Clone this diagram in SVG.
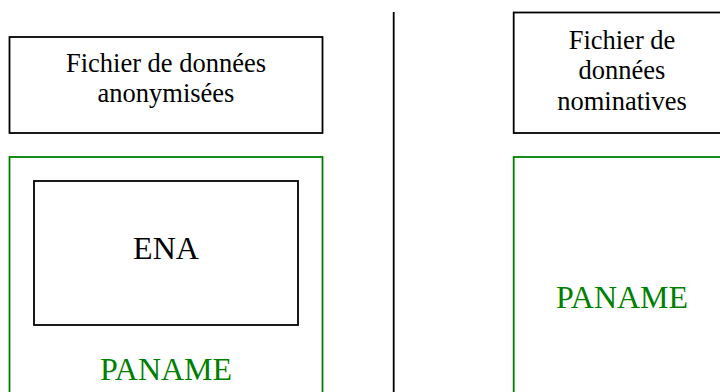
<svg xmlns="http://www.w3.org/2000/svg" width="720" height="392" viewBox="0 0 720 392">
<style>
.box{fill:#fff;stroke:#000;stroke-width:1.8}
.gbox{fill:#fff;stroke:#008000;stroke-width:1.8}
.t{font-family:"Liberation Serif","Times New Roman",serif;font-size:26.5px;fill:#000;text-anchor:middle}
.big{font-family:"Liberation Serif","Times New Roman",serif;font-size:32px;text-anchor:middle}
</style>
<rect width="720" height="392" fill="#fff"/>
<g id="left-file">
<rect class="box" x="9.5" y="37" width="313" height="96"/>
<text class="t" x="166" y="71.7">Fichier de données</text>
<text class="t" x="166" y="101.7">anonymisées</text>
</g>
<g id="left-paname">
<rect class="gbox" x="9.5" y="157" width="313" height="245"/>
<text class="big" x="166" y="380" fill="#008000">PANAME</text>
</g>
<g id="ena">
<rect class="box" x="34" y="181" width="264" height="144"/>
<text class="big" x="166" y="259" fill="#000">ENA</text>
</g>
<g id="connectors">
<line x1="393.7" y1="12" x2="393.7" y2="392" stroke="#000" stroke-width="1.8"/>
</g>
<g id="right-file">
<rect class="box" x="513.7" y="12.5" width="220" height="120.5"/>
<text class="t" x="622" y="48.7">Fichier de</text>
<text class="t" x="622" y="79">données</text>
<text class="t" x="622" y="109.5">nominatives</text>
</g>
<g id="right-paname">
<rect class="gbox" x="513.7" y="157" width="220" height="245"/>
<text class="big" x="622" y="308" fill="#008000">PANAME</text>
</g>
</svg>
